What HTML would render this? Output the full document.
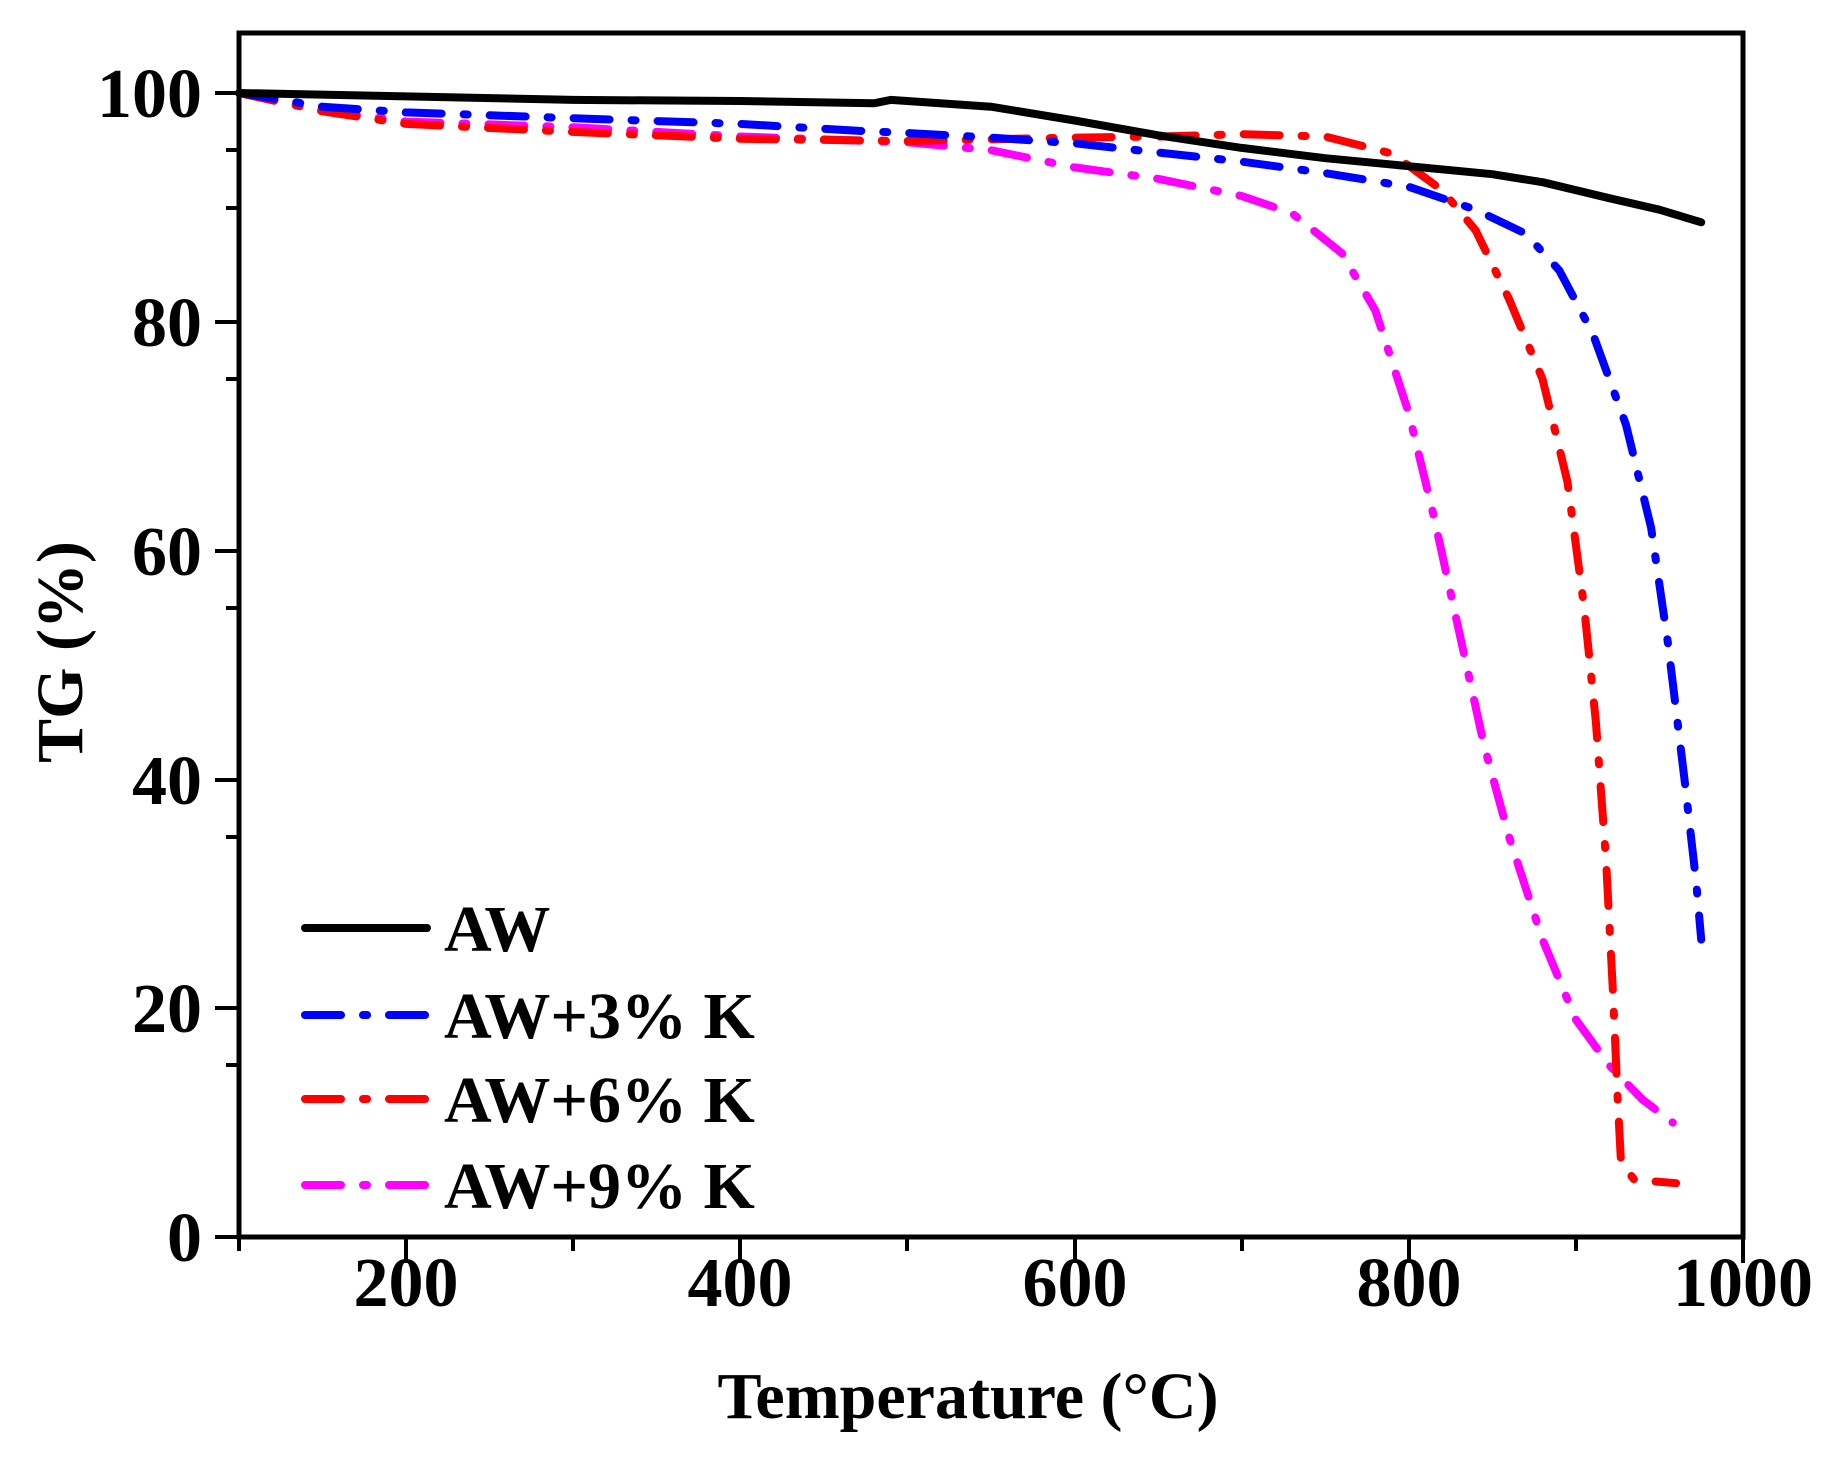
<!DOCTYPE html>
<html><head><style>body{margin:0;background:#fff}svg{display:block}text{font-family:"Liberation Serif",serif;font-weight:bold;fill:#000}</style></head>
<body>
<svg width="1825" height="1461" viewBox="0 0 1825 1461" xmlns="http://www.w3.org/2000/svg">
<g stroke="#000" stroke-width="4">
<line x1="215" y1="93" x2="239" y2="93"/><line x1="226" y1="150" x2="239" y2="150"/>
<line x1="215" y1="322" x2="239" y2="322"/><line x1="226" y1="379" x2="239" y2="379"/>
<line x1="215" y1="551" x2="239" y2="551"/><line x1="226" y1="608" x2="239" y2="608"/>
<line x1="215" y1="780" x2="239" y2="780"/><line x1="226" y1="837" x2="239" y2="837"/>
<line x1="215" y1="1008" x2="239" y2="1008"/><line x1="226" y1="1065" x2="239" y2="1065"/>
<line x1="215" y1="1237" x2="239" y2="1237"/><line x1="226" y1="208" x2="239" y2="208"/>
<line x1="239" y1="1237" x2="239" y2="1251"/>
<line x1="406" y1="1237" x2="406" y2="1263"/><line x1="573" y1="1237" x2="573" y2="1251"/>
<line x1="740" y1="1237" x2="740" y2="1263"/><line x1="907" y1="1237" x2="907" y2="1251"/>
<line x1="1075" y1="1237" x2="1075" y2="1263"/><line x1="1242" y1="1237" x2="1242" y2="1251"/>
<line x1="1409" y1="1237" x2="1409" y2="1263"/><line x1="1576" y1="1237" x2="1576" y2="1251"/>
<line x1="1743" y1="1237" x2="1743" y2="1263"/>
</g>
<rect x="239" y="33" width="1504" height="1204" fill="none" stroke="#000" stroke-width="5"/>
<g fill="none" stroke-width="8" stroke-linecap="round" stroke-linejoin="round">
<polyline stroke="#f0f" stroke-dasharray="36 22 4 22" points="239,93 322.6,110.2 406.1,121.6 573.2,127.3 740.3,136.5 907.4,142.2 991,150.2 1074.6,167.4 1158.1,178.8 1241.7,196 1291.8,213.1 1341.9,253.2 1375.3,310.4 1408.8,413.3 1433.8,516.3 1458.9,630.7 1484,745.1 1509,836.6 1542.5,939.6 1575.9,1019.6 1609.3,1065.4 1642.7,1099.7 1672.8,1122.6"/>
<polyline stroke="#f00" stroke-dasharray="36 22 4 22" points="239,93 322.6,111.3 406.1,123.9 573.2,131.9 740.3,138.8 907.4,141 1074.6,137.6 1158.1,136.5 1241.7,134.2 1325.2,136.5 1392.1,153.6 1442.2,190.2 1475.6,230.3 1509,298.9 1542.5,379 1567.5,482 1584.2,607.8 1595.9,722.2 1606,859.5 1612.6,985.3 1617.7,1099.7 1621,1162.6 1634.4,1179.8 1676.1,1183.2"/>
<polyline stroke="#00f" stroke-dasharray="36 22 4 22" points="239,93 322.6,106.7 406.1,112.4 573.2,118.2 740.3,123.9 857.3,130.8 907.4,133 991,137.6 1074.6,143.3 1158.1,152.5 1241.7,161.6 1325.2,173.1 1408.8,186.8 1475.6,209.7 1525.7,233.7 1559.2,270.3 1592.6,333.2 1626,424.8 1651.1,527.7 1667.8,642.1 1684.5,779.4 1696.2,882.4 1701.2,939.6"/>
<polyline stroke="#000" points="239,93 406.1,96.4 573.2,99.9 740.3,101 874,103.3 890.7,99.9 991,106.7 1074.6,120.5 1158.1,135.3 1241.7,147.9 1325.2,158.2 1408.8,166.2 1492.3,174.2 1542.5,182.2 1609.3,198.2 1659.4,209.7 1701.2,222.3"/>
</g>
<g font-size="70" text-anchor="end">
<text x="202" y="117">100</text><text x="202" y="346">80</text><text x="202" y="575">60</text><text x="202" y="804">40</text><text x="202" y="1032">20</text><text x="202" y="1261">0</text>
</g>
<g font-size="70" text-anchor="middle">
<text x="406" y="1306">200</text><text x="740" y="1306">400</text><text x="1075" y="1306">600</text><text x="1409" y="1306">800</text><text x="1743" y="1306">1000</text>
</g>
<text x="968" y="1418" font-size="66" text-anchor="middle">Temperature (°C)</text>
<text transform="translate(82,652) rotate(-90)" font-size="66" text-anchor="middle">TG (%)</text>
<g stroke-width="8" stroke-linecap="round" fill="none">
<line x1="305" y1="928" x2="427" y2="928" stroke="#000"/>
<line x1="305" y1="1015" x2="427" y2="1015" stroke="#00f" stroke-dasharray="36 22 4 22"/>
<line x1="305" y1="1099" x2="427" y2="1099" stroke="#f00" stroke-dasharray="36 22 4 22"/>
<line x1="305" y1="1185" x2="427" y2="1185" stroke="#f0f" stroke-dasharray="36 22 4 22"/>
</g>
<g font-size="66">
<text x="444" y="951">AW</text><text x="444" y="1038">AW+3% K</text><text x="444" y="1122">AW+6% K</text><text x="444" y="1208">AW+9% K</text>
</g>
</svg>
</body></html>
